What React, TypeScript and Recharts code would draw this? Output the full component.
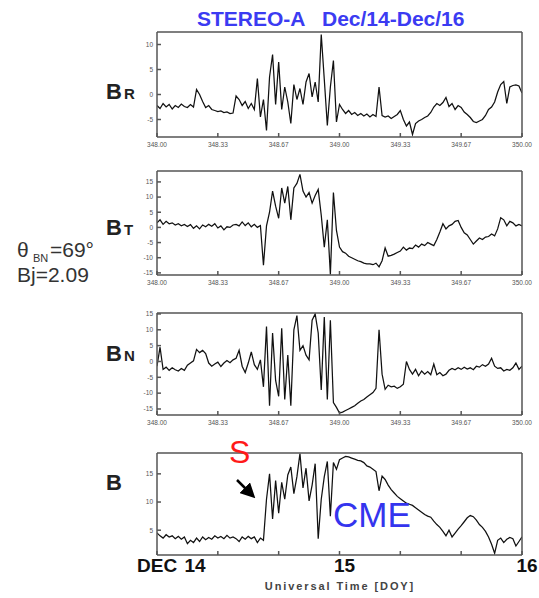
import React from 'react';
import { LineChart, Line, XAxis, YAxis } from 'recharts';

// samples every 24 min from DOY 348.00 to 350.00
const START_DOY = 348;
const STEP_DOY = 1 / 60;

const BR = [
  -2.2, -2.8, -1.8, -2.5, -2.0, -2.9, -2.2, -2.6, -1.9, -2.4,
  -2.6, -2.0, -2.5, 1.0, 0.0, -1.4, -2.6, -2.2, -3.0, -3.2,
  -3.4, -3.3, -3.6, -3.5, -3.8, -3.7, -0.3, -1.0, -2.2, -1.4,
  -2.8, -1.8, -3.0, 3.2, -4.5, -1.0, -7.2, 3.5, 8.0, -2.0,
  6.5, -3.0, 1.5, -1.5, -5.8, 2.0, -1.0, 1.2, -2.0, 2.5,
  4.2, -0.5, 2.5, -1.5, 12.0, 3.0, -6.2, 1.5, 6.8, -5.5,
  -2.0, -3.0, -3.8, -3.2, -4.0, -3.6, -4.2, -3.8, -4.3, -3.9,
  -4.5, -4.0, -4.4, 1.5, -4.2, -4.5, -4.3, -4.8, -4.4, -4.0,
  -3.2, -5.0, -6.3, -5.5, -8.0, -5.8, -5.3, -5.0, -4.6, -4.3,
  -3.6, -2.5, -1.8, -2.2, -1.6, -0.6, -2.4, -1.8, -3.0, -2.2,
  -2.6, -3.5, -4.0, -4.6, -5.4, -5.6, -5.3, -5.0, -4.2, -3.0,
  -2.5, -1.5, 0.5, 2.0, 2.6, -1.8, 1.5, 1.8, 1.9, 1.7, 0.3,
];

const BT = [
  1.5, 2.5, 1.0, 2.0, 1.2, 1.5, 0.8, 1.2, 0.5, 1.0,
  0.3, 0.9, -0.3, 0.5, -0.5, 0.8, 0.2, 1.0, 0.4, 1.2,
  -0.2, 0.5, -0.8, 0.2, 0.0, 0.8, 1.0, 0.5, 1.8, 0.6,
  1.5, 0.2, 1.0, 0.0, 0.6, -12.5, 0.5, 5.0, 12.0, 7.0,
  3.0, 13.0, 8.0, 13.5, 2.5, 13.0, 14.5, 17.5, 12.0, 10.0,
  11.5, 8.0, 10.5, 12.5, 4.0, -6.5, 2.5, -15.5, 11.5, -1.0,
  -6.5, -8.0, -8.5, -9.5, -10.0, -10.5, -11.0, -11.3, -11.8, -12.0,
  -12.0, -12.3, -11.8, -13.0, -11.0, -6.8, -9.5, -9.2, -8.8, -8.3,
  -7.8, -6.5, -7.5, -6.8, -7.0, -5.8, -6.5, -5.5, -6.0, -5.0,
  -5.5, -6.0, -4.0, -1.5, 1.2, -0.5, 0.5, 1.0, 2.0, 2.3,
  0.0, -1.8, -2.5, -4.0, -5.5, -4.5, -3.5, -4.0, -3.2, -3.0,
  -2.2, -2.8, -0.5, 3.2, 2.5, 0.5, 2.0, 1.5, 0.5, 1.0, 0.5,
];

const BN = [
  -1.5, 4.5, -2.5, -1.8, -2.8, -2.0, -2.6, -3.0, -2.2, -2.8,
  -1.2, -0.5, 0.2, 3.8, 2.8, 3.5, 2.5, -0.5, -1.5, -0.8,
  -0.2, -1.6, -0.5, 0.3, -0.4, 0.5, 1.0, 3.5, -1.5, -3.5,
  -0.5, 3.0, -1.0, -2.5, 0.5, -8.0, 11.0, -14.0, 9.0, -6.0,
  -11.0, 10.5, -12.0, 2.0, -14.0, 10.0, 14.5, 3.5, 5.0, 2.0,
  0.5, 13.0, 15.0, 9.0, -9.0, 14.0, -12.0, 13.0, -13.0, -14.5,
  -16.3, -16.0, -15.5, -15.0, -14.5, -14.0, -13.2, -12.5, -12.0, -11.2,
  -10.5, -9.8, -8.5, 10.0, -4.0, -8.8, -7.5, -8.0, -7.8, -8.5,
  -8.0, -7.2, 0.0, -2.5, -4.0, -2.5, -4.5, -3.0, -4.0, -3.2,
  -4.2, -0.8, -4.2, -3.5, -4.5, -4.0, -2.8, -2.2, -2.6, -2.0,
  -2.5, -1.8, -2.4, -2.0, -2.6, -1.5, -1.8, -1.0, -1.5, -0.8,
  1.0, -1.5, -2.2, -2.0, -3.0, -2.5, -2.8, -2.0, -0.5, -2.5, -1.5,
];

const BMAG = [
  4.5, 4.0, 3.6, 4.2, 3.8, 4.0, 3.5, 3.9, 3.4, 3.8,
  2.6, 3.2, 2.8, 3.6, 3.0, 3.8, 3.3, 3.7, 3.4, 4.0,
  3.6, 3.9, 3.5, 4.1, 3.6, 3.8, 3.5, 3.0, 3.8, 3.4,
  3.9, 3.5, 3.8, 2.8, 3.6, 3.2, 10.5, 15.0, 7.0, 13.8,
  8.0, 13.5, 10.5, 14.8, 16.2, 11.5, 14.5, 18.6, 12.5, 16.0,
  10.2, 13.0, 16.8, 3.5, 10.5, 14.5, 17.2, 7.5, 17.0, 15.8,
  17.5, 17.8, 18.1, 18.0, 17.8, 17.6, 17.4, 17.3, 17.0, 16.4,
  16.2, 15.8, 15.4, 12.0, 14.6, 14.0, 13.0, 12.2, 11.6, 11.0,
  10.6, 10.2, 9.8, 9.6, 9.4, 9.0, 8.6, 8.2, 7.8, 7.5,
  7.3, 6.6, 6.0, 5.5, 4.8, 4.0, 5.0, 3.8, 4.5, 5.2,
  5.8, 6.5, 7.2, 7.6, 7.4, 6.8, 6.0, 5.5, 4.8, 3.8,
  2.5, 0.9, 3.2, 3.6, 2.8, 3.4, 3.7, 3.5, 2.2, 3.0, 3.8,
];

const DOY_TICKS = [348, 348 + 1 / 3, 348 + 2 / 3, 349, 349 + 1 / 3, 349 + 2 / 3, 350];
const BR_TICKS = [-5, 0, 5, 10];
const BT_TICKS = [-15, -10, -5, 0, 5, 10, 15];
const BN_TICKS = [-15, -10, -5, 0, 5, 10, 15];
const B_TICKS = [5, 10, 15];

const rows = BR.map((br, i) => ({
  t: START_DOY + i * STEP_DOY,
  br,
  bt: BT[i],
  bn: BN[i],
  b: BMAG[i],
}));

const FONT = "'Liberation Sans', Arial, sans-serif";
const AXIS_COLOR = '#555';

function DayTick({ x, y, payload }: any) {
  const v = Math.round(payload.value * 1000) / 1000;
  const base = y + 13;
  const style = { fontFamily: FONT, fontSize: 19, fontWeight: 700, fill: '#111' };
  if (v === 348) {
    return (
      <g>
        <text x={x - 20} y={base} style={style}>DEC</text>
        <text x={x + 38} y={base} textAnchor="middle" style={style}>14</text>
      </g>
    );
  }
  if (v === 349) return <text x={x + 5} y={base} textAnchor="middle" style={style}>15</text>;
  if (v === 350) return <text x={x + 5} y={base} textAnchor="middle" style={style}>16</text>;
  return null;
}

function Panel({ plotTop, plotHeight, dataKey, domain, ticks, days }: {
  plotTop: number;
  plotHeight: number;
  dataKey: string;
  domain: [number, number];
  ticks: number[];
  days?: boolean;
}) {
  const axisH = days ? 34 : 18;
  return (
    <div style={{ position: 'absolute', left: 0, top: plotTop - 2 }}>
      <LineChart
        width={539}
        height={plotHeight + 2 + axisH}
        data={rows}
        margin={{ top: 2, right: 16, bottom: 0, left: 0 }}
      >
        <XAxis
          dataKey="t"
          type="number"
          domain={[348, 350]}
          ticks={DOY_TICKS}
          interval={0}
          height={axisH}
          stroke={AXIS_COLOR}
          strokeWidth={1.5}
          tickSize={-4}
          tickMargin={days ? 8 : 9}
          tick={days ? <DayTick /> : { fontSize: 6.5, fill: '#555', fontFamily: FONT }}
          tickFormatter={(v: number) => v.toFixed(2)}
          allowDataOverflow
        />
        <XAxis
          xAxisId="top"
          orientation="top"
          dataKey="t"
          type="number"
          domain={[348, 350]}
          ticks={DOY_TICKS}
          interval={0}
          height={1}
          stroke={AXIS_COLOR}
          strokeWidth={1.5}
          tickSize={-4}
          tick={false}
          allowDataOverflow
        />
        <YAxis
          type="number"
          width={157}
          domain={domain}
          ticks={ticks}
          interval={0}
          stroke={AXIS_COLOR}
          strokeWidth={1.5}
          tickSize={-4}
          tickMargin={8}
          tick={{ fontSize: 6.5, fill: '#555', fontFamily: FONT, strokeWidth: 0 }}
          allowDataOverflow
        />
        <YAxis
          yAxisId="right"
          orientation="right"
          type="number"
          width={1}
          domain={domain}
          ticks={ticks}
          interval={0}
          stroke={AXIS_COLOR}
          strokeWidth={1.5}
          tickSize={-4}
          tick={false}
          allowDataOverflow
        />
        <Line
          type="linear"
          dataKey={dataKey}
          stroke="#111"
          strokeWidth={1.25}
          dot={false}
          isAnimationActive={false}
        />
        <Line
          xAxisId="top"
          yAxisId="right"
          type="linear"
          dataKey={dataKey}
          stroke="none"
          dot={false}
          legendType="none"
          isAnimationActive={false}
        />
      </LineChart>
    </div>
  );
}

function CompLabel({ y, sub }: { y: number; sub?: string }) {
  return (
    <g style={{ fontFamily: FONT, fontWeight: 700, fill: '#222' }}>
      <text x={106} y={y} fontSize={22}>B</text>
      {sub && <text x={124} y={y} fontSize={15}>{sub}</text>}
    </g>
  );
}

export default function App() {
  return (
    <div style={{ position: 'absolute', left: 0, top: 0, width: 539, height: 598, background: '#fff' }}>
      <Panel plotTop={31} plotHeight={106} dataKey="br" domain={[-8.5, 12.5]} ticks={BR_TICKS} />
      <Panel plotTop={170} plotHeight={105} dataKey="bt" domain={[-15.7, 18.6]} ticks={BT_TICKS} />
      <Panel plotTop={312} plotHeight={103} dataKey="bn" domain={[-16.9, 15.3]} ticks={BN_TICKS} />
      <Panel plotTop={452} plotHeight={103} dataKey="b" domain={[0.6, 18.7]} ticks={B_TICKS} days />

      <svg width={539} height={598} style={{ position: 'absolute', left: 0, top: 0, pointerEvents: 'none' }}>
        <defs>
          <marker id="head" markerWidth="6" markerHeight="6" refX="3" refY="3" orient="auto">
            <path d="M0,0 L6,3 L0,6 Z" fill="#000" />
          </marker>
        </defs>
        <g style={{ fontFamily: FONT, fontWeight: 700, fontSize: 21, fill: '#3b3bf2' }}>
          <text x={197} y={26}>STEREO-A</text>
          <text x={322} y={26}>Dec/14-Dec/16</text>
        </g>
        <CompLabel y={99} sub="R" />
        <CompLabel y={235} sub="T" />
        <CompLabel y={361} sub="N" />
        <CompLabel y={490} />
        <g style={{ fontFamily: FONT, fill: '#333' }}>
          <text x={17} y={257} fontSize={21}>θ</text>
          <text x={33} y={262} fontSize={11}>BN</text>
          <text x={50} y={257} fontSize={21}>=69°</text>
          <text x={17} y={282} fontSize={21}>Bj=2.09</text>
        </g>
        <text x={229} y={463} style={{ fontFamily: FONT, fontSize: 32, fill: '#ff1a1a' }}>S</text>
        <line x1={237} y1={480} x2={250} y2={493} stroke="#000" strokeWidth={2.5} markerEnd="url(#head)" />
        <text x={333} y={527} style={{ fontFamily: FONT, fontSize: 35, fill: '#3434ee' }}>CME</text>
        <text
          x={340}
          y={590}
          textAnchor="middle"
          style={{ fontFamily: FONT, fontSize: 11, fontWeight: 700, fill: '#444', letterSpacing: 1.9 }}
        >
          Universal Time  [DOY]
        </text>
      </svg>
    </div>
  );
}
